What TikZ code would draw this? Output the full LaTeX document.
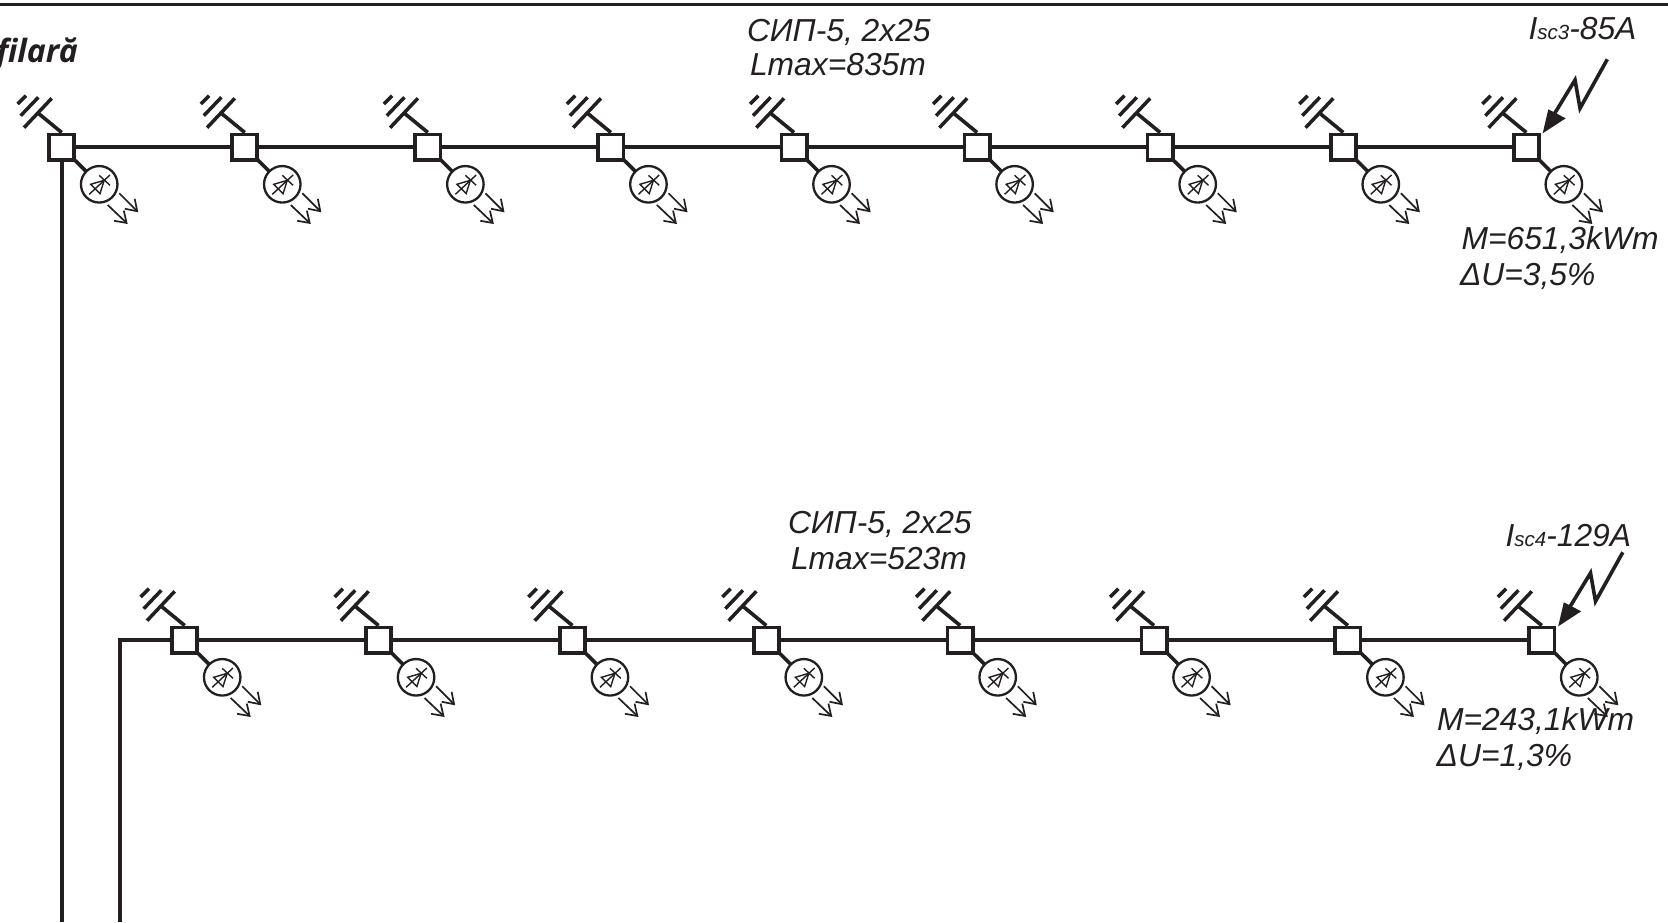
\documentclass[tikz,border=0pt]{standalone}
\usepackage{fontspec}
\setmainfont{Liberation Sans}
\newfontfamily\titlefont{Open Sans}
\usetikzlibrary{arrows.meta}
\definecolor{ink}{HTML}{231F20}
\newcommand{\bigtxt}{\fontsize{31.8}{36}\selectfont\itshape}
\newcommand{\littxt}{\fontsize{20.5}{24}\selectfont\itshape}
\tikzset{
  x=1pt,y=-1pt,
  wire/.style={draw=ink,line width=3.6pt},
  busbox/.style={draw=ink,fill=white,line width=3.8pt,minimum size=25.2pt,inner sep=0pt,outer sep=0pt,shape=rectangle},
  lampnode/.style={draw=ink,fill=white,line width=2.3pt,shape=circle,minimum size=36.5pt,inner sep=0pt,outer sep=0pt},
  capbar/.style={draw=ink,line width=3.5pt},
  thinpart/.style={draw=ink,line width=1.4pt},
  ray/.style={draw=ink,line width=1.7pt,-{Straight Barb[length=10.5pt,width=14pt,line width=1.7pt]}},
  bolt/.style={draw=ink,line width=3.6pt,line join=miter},
  boltarrow/.style={fill=ink,draw=none},
  lab/.style={anchor=base west,inner sep=0pt,outer sep=0pt,text=ink,font=\bigtxt},
}
\newcommand{\unitsym}[3]{%
  \node[busbox] (#1) at (#2,#3) {};
  \begin{scope}[shift={(#2,#3)}]
    \draw[wire] (0,-14.5) -- (-23.4,-33.7);
    \draw[capbar] (-10,-48.7) -- (-37.7,-19.3);
    \draw[capbar] (-23.4,-49.7) -- (-41,-31.3);
    \draw[capbar] (-35.7,-51.3) -- (-44,-43);
    \node[lampnode] (#1l) at (37.5,37.3) {};
    \draw[wire] (#1.south east) -- (#1l);
    \draw[thinpart] (29,37.3) -- (38.3,46.6) -- (42.5,33.3) -- cycle;
    \draw[thinpart] (37.5,28.3) -- (48.3,38.3);
    \draw[thinpart] (27.5,47.3) -- (48.3,28);
    \draw[ray] (57.6,46.3) -- (76.6,65.3);
    \draw[ray] (46,58) -- (66,77);
  \end{scope}}
\newcommand{\boltsym}[2]{%
  \begin{scope}[shift={(#1,#2)}]
    \draw[bolt] (81,-87.7) -- (53.7,-38.7) -- (48.7,-67) -- (28,-33);
    \path[boltarrow] (16.4,-13.7) -- (22,-37.7) -- (39.4,-28.7) -- cycle;
  \end{scope}}
\begin{document}
\begin{tikzpicture}
\path[fill=white] (0,0) rectangle (1668,922);
\useasboundingbox (0,0) rectangle (1668,922);
\draw[draw=ink,line width=3pt] (0,4.7) -- (1668,4.7);
\coordinate (bA) at (61.7,922);
\coordinate (bB) at (120,922);
\coordinate (cB) at (120,640);
\foreach \i in {0,...,8} {
  \pgfmathsetmacro{\xx}{61.7+183.08*\i}
  \coordinate (pa\i) at (\xx,147);
}
\foreach \i in {0,...,7} {
  \pgfmathsetmacro{\xx}{184.7+193.87*\i}
  \coordinate (pb\i) at (\xx,640);
}
\draw[wire] (pa0) -- (pa8);
\draw[wire] (bA) -- (pa0);
\draw[wire,line join=miter] (bB) -- (cB) -- (pb7);
\foreach \i in {0,...,8} {
  \pgfmathsetmacro{\xx}{61.7+183.08*\i}
  \unitsym{a\i}{\xx}{147}
}
\foreach \i in {0,...,7} {
  \pgfmathsetmacro{\xx}{184.7+193.87*\i}
  \unitsym{b\i}{\xx}{640}
}
\boltsym{1526.3}{147}
\boltsym{1541.8}{640}
\node[anchor=base east,inner sep=0pt,text=ink,font=\titlefont\fontsize{32}{36}\selectfont\bfseries\itshape] (title) at (78,62) {filară};
\node[lab] (t1) at (747,41.5) {СИП-5, 2x25};
\node[lab] (t2) at (750,75.5) {Lmax=835m};
\node[lab] (t3) at (1528.5,39.5) {I{\littxt sc3}-85A};
\node[lab] (t4) at (1461.5,249.7) {M=651,3kWm};
\node[lab] (t5) at (1460,285) {ΔU=3,5\%};
\node[lab] (t6) at (788,533) {СИП-5, 2x25};
\node[lab] (t7) at (791,569) {Lmax=523m};
\node[lab] (t8) at (1505.5,546) {I{\littxt sc4}-129A};
\node[lab] (t9) at (1437,730) {M=243,1kWm};
\node[lab] (t10) at (1436.7,766) {ΔU=1,3\%};
\end{tikzpicture}
\end{document}
